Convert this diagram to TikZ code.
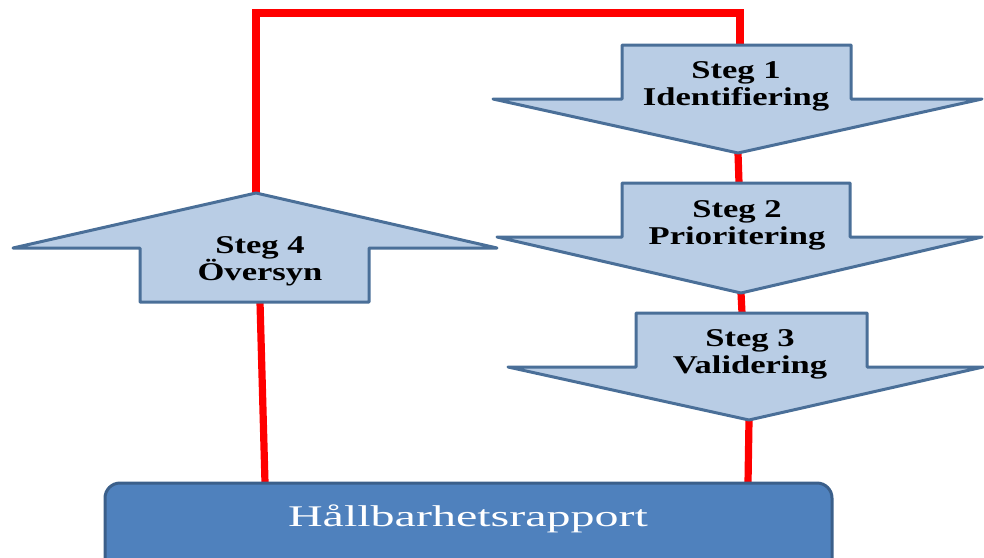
\documentclass[tikz,border=0pt]{standalone}
\usepackage{fontspec}
\setmainfont{Liberation Serif}
\newfontfamily\stepfont[FakeStretch=1.35]{Liberation Serif}
\newfontfamily\boxfont[FakeStretch=1.6]{Liberation Serif}
\definecolor{arrowfill}{HTML}{B9CDE5}
\definecolor{arrowline}{HTML}{4A6F98}
\definecolor{boxfill}{HTML}{4F81BD}
\definecolor{boxline}{HTML}{3B5F8A}
\definecolor{redline}{HTML}{FF0000}
\tikzset{
  x=0.5pt, y=-0.5pt,
  stepshape/.style={fill=arrowfill, draw=arrowline, line width=1.5pt, line join=round},
  steptext/.style={align=center, font=\stepfont\bfseries\fontsize{12.8}{13.6}\selectfont, text=black, inner sep=0pt},
  link/.style={draw=redline, line width=3.6pt},
  reportbox/.style={fill=boxfill, draw=boxline, line width=1.5pt, rounded corners=7.5pt},
  reporttext/.style={font=\boxfont\fontsize{15}{16}\selectfont, text=white, inner sep=0pt}
}
\begin{document}
\begin{tikzpicture}
\useasboundingbox (0,0) rectangle (984,557);
\clip (0,0) rectangle (984,557);
% coordinates for connectors
\coordinate (tl) at (256,13);
\coordinate (tr) at (740,13);
\coordinate (s1top) at (740,45);
\coordinate (s1tip) at (738,153);
\coordinate (s2top) at (739,183);
\coordinate (s2tip) at (741,293);
\coordinate (s3top) at (742,313);
\coordinate (s3tip) at (749,420);
\coordinate (s4tip) at (256,193);
\coordinate (s4bot) at (260,302);
\coordinate (rleft) at (265,483);
\coordinate (rright) at (748,483);
% red connectors
\draw[link, line join=miter] (s4tip) -- (tl) -- (tr) -- (s1top);
\draw[link] (s1tip) -- (s2top);
\draw[link] (s2tip) -- (s3top);
\draw[link] (s3tip) -- (rright);
\draw[link] (s4bot) -- (rleft);
% step arrows
\draw[stepshape] (622,45) -- (851,45) -- (851,99) -- (982,99) -- (s1tip) -- (493,99) -- (622,99) -- cycle;
\draw[stepshape] (622,183) -- (850,183) -- (850,237) -- (982,237) -- (s2tip) -- (497,237) -- (622,237) -- cycle;
\draw[stepshape] (636,313) -- (867,313) -- (867,367) -- (983,367) -- (s3tip) -- (508,367) -- (636,367) -- cycle;
\draw[stepshape] (140,302) -- (369,302) -- (369,248) -- (497,248) -- (s4tip) -- (13,248) -- (140,248) -- cycle;
\node[steptext] (t1) at (736,86) {Steg 1\\Identifiering};
\node[steptext] (t2) at (737,225) {Steg 2\\Prioritering};
\node[steptext] (t3) at (750,354) {Steg 3\\Validering};
\node[steptext] (t4) at (260,261) {Steg 4\\Översyn};
% report box
\draw[reportbox] (105,483) rectangle (832,610);
\node[reporttext] (rep) at (468,519) {Hållbarhetsrapport};
\end{tikzpicture}
\end{document}
